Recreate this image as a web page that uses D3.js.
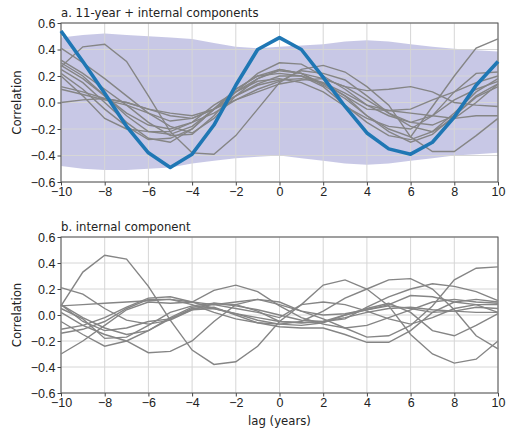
<!DOCTYPE html>
<html lang="en">
<head>
  <meta charset="UTF-8" />
  <title>Lagged correlation</title>
  <script src="https://d3js.org/d3.v7.min.js"></script>
  <style>
    body { margin: 0; background: #fff; }
    svg { font-family: "DejaVu Sans", sans-serif; }
    .tick text { font-size: 12.5px; fill: #222; }
  </style>
</head>
<body>
  <svg id="chart" width="507" height="435"></svg>

  <script>
    const lags = d3.range(-10, 11);
    const xTicks = [-10, -8, -6, -4, -2, 0, 2, 4, 6, 8, 10];
    const yTicks = [-0.6, -0.4, -0.2, 0.0, 0.2, 0.4, 0.6];

    // panel a: spread band
    const bandUpper = [0.49,0.51,0.52,0.51,0.50,0.49,0.48,0.45,0.42,0.41,0.42,0.43,0.44,0.46,0.47,0.46,0.44,0.42,0.405,0.395,0.385];
    const bandLower = [-0.48,-0.50,-0.51,-0.51,-0.50,-0.49,-0.46,-0.44,-0.42,-0.41,-0.40,-0.42,-0.44,-0.46,-0.47,-0.46,-0.44,-0.42,-0.40,-0.39,-0.38];

    // panel a: observed (blue)
    const observed = [0.54,0.31,0.07,-0.18,-0.38,-0.49,-0.39,-0.17,0.13,0.40,0.49,0.40,0.19,-0.03,-0.23,-0.35,-0.39,-0.30,-0.11,0.13,0.31];

    // panel a: members (gray)
    const membersA = [
      [0.27,0.42,0.44,0.31,0.05,-0.22,-0.38,-0.39,-0.25,-0.05,0.15,0.25,0.28,0.23,0.12,-0.02,-0.26,-0.37,-0.37,-0.25,-0.12],
      [0.41,0.30,0.18,0.05,-0.08,-0.18,-0.23,-0.12,0.05,0.18,0.25,0.22,0.13,0.03,-0.10,-0.20,-0.26,-0.03,0.20,0.41,0.48],
      [0.32,0.22,0.10,-0.02,-0.15,-0.25,-0.24,-0.10,0.08,0.22,0.30,0.29,0.20,0.10,-0.02,-0.10,-0.15,-0.10,0.08,0.22,0.23],
      [0.22,0.10,-0.05,-0.18,-0.28,-0.27,-0.20,-0.05,0.10,0.20,0.25,0.22,0.18,0.12,0.09,0.10,0.12,0.08,0.00,-0.02,-0.03],
      [0.30,0.20,0.05,-0.10,-0.22,-0.24,-0.18,-0.05,0.10,0.20,0.22,0.20,0.12,-0.02,-0.15,-0.25,-0.28,-0.22,-0.08,0.08,0.18],
      [0.25,0.15,0.00,-0.15,-0.27,-0.30,-0.20,-0.05,0.08,0.16,0.18,0.15,0.08,-0.03,-0.12,-0.18,-0.20,-0.10,0.02,0.10,0.16],
      [0.12,0.08,0.03,0.00,-0.05,-0.10,-0.12,-0.05,0.05,0.13,0.17,0.18,0.15,0.05,-0.10,-0.22,-0.30,-0.24,-0.10,0.05,0.14],
      [0.10,0.06,0.02,-0.02,-0.08,-0.14,-0.12,-0.05,0.05,0.14,0.20,0.20,0.15,0.07,-0.02,-0.06,-0.08,-0.10,-0.12,-0.10,-0.10],
      [0.00,0.02,0.03,0.00,-0.05,-0.08,-0.10,-0.05,0.02,0.08,0.14,0.17,0.18,0.12,0.02,-0.08,-0.15,-0.17,-0.10,0.04,0.12],
      [0.20,0.05,-0.12,-0.20,-0.22,-0.22,-0.15,-0.02,0.08,0.18,0.24,0.22,0.14,0.05,-0.05,-0.06,-0.05,0.02,0.08,0.15,0.20],
      [0.28,0.18,0.05,-0.08,-0.17,-0.20,-0.15,-0.08,0.02,0.10,0.16,0.24,0.22,0.17,0.05,-0.08,-0.18,-0.22,-0.12,0.00,0.14]
    ];

    // panel b: internal component members (gray)
    const membersB = [
      [0.07,0.33,0.46,0.43,0.22,-0.04,-0.27,-0.38,-0.36,-0.24,-0.05,0.08,0.10,0.08,0.03,-0.03,-0.07,-0.02,0.05,0.08,0.08],
      [0.07,0.08,0.09,0.10,0.11,0.12,0.10,0.08,0.10,0.12,0.08,0.03,0.00,0.01,0.04,0.07,0.05,0.02,0.03,0.06,0.05],
      [0.21,0.16,0.05,-0.04,-0.07,-0.04,0.04,0.09,0.08,0.03,-0.05,-0.06,-0.05,-0.03,0.06,0.14,0.20,0.24,0.22,0.18,0.11],
      [0.02,-0.08,-0.15,-0.20,-0.29,-0.28,-0.20,-0.05,0.08,0.12,0.10,0.03,-0.03,-0.10,-0.17,-0.16,-0.08,0.07,0.27,0.36,0.37],
      [-0.30,-0.20,-0.08,0.04,0.10,0.09,0.10,0.19,0.23,0.18,0.07,-0.02,-0.07,-0.10,-0.08,-0.02,0.04,0.10,0.12,0.10,0.09],
      [0.08,-0.05,-0.12,-0.10,-0.05,-0.03,0.04,0.05,0.01,-0.04,-0.07,-0.05,0.03,0.13,0.20,0.27,0.28,0.20,0.04,-0.16,-0.26],
      [0.08,-0.02,-0.10,-0.15,-0.12,-0.02,0.06,0.08,0.05,0.02,-0.02,0.08,0.23,0.27,0.20,0.07,-0.15,-0.30,-0.37,-0.34,-0.20],
      [-0.05,-0.15,-0.24,-0.20,-0.12,-0.03,0.05,0.06,0.00,-0.06,-0.09,-0.10,-0.10,-0.15,-0.21,-0.21,-0.12,0.02,0.10,0.12,0.10],
      [-0.11,-0.08,-0.02,0.06,0.13,0.14,0.10,0.05,0.01,-0.02,-0.05,-0.06,-0.05,-0.02,0.02,0.05,0.06,0.04,0.03,0.02,0.02],
      [-0.14,-0.11,-0.05,0.05,0.12,0.12,0.08,0.02,-0.03,-0.06,-0.07,-0.08,-0.06,0.00,0.05,0.09,0.02,-0.12,-0.16,-0.08,0.01],
      [0.05,-0.03,-0.18,-0.17,-0.08,0.02,0.07,0.09,0.07,0.04,0.00,-0.04,-0.05,0.00,0.04,0.08,0.15,0.14,0.10,0.08,0.02]
    ];

    const svg = d3.select("#chart");
    const x = d3.scaleLinear().domain([-10, 10]).range([61, 498]);

    function panel(top, bottom, title, showXLabel) {
      const y = d3.scaleLinear().domain([-0.6, 0.6]).range([bottom, top]);
      const g = svg.append("g");

      // grid
      g.append("g").selectAll("line").data(xTicks).join("line")
        .attr("x1", d => x(d)).attr("x2", d => x(d))
        .attr("y1", top).attr("y2", bottom)
        .attr("stroke", "#d6d6d6").attr("stroke-width", 1);
      g.append("g").selectAll("line").data(yTicks).join("line")
        .attr("x1", x(-10)).attr("x2", x(10))
        .attr("y1", d => y(d)).attr("y2", d => y(d))
        .attr("stroke", "#d6d6d6").attr("stroke-width", 1);

      // axes
      g.append("g")
        .attr("transform", `translate(0,${bottom})`)
        .call(d3.axisBottom(x).tickValues(xTicks).tickSize(3.5).tickPadding(2)
          .tickFormat(d => d < 0 ? "\u2212" + Math.abs(d) : d))
        .call(a => a.select(".domain").remove())
        .call(a => a.selectAll(".tick line").attr("stroke", "#444"));
      g.append("g")
        .attr("transform", `translate(${x(-10)},0)`)
        .call(d3.axisLeft(y).tickValues(yTicks).tickSize(3.5).tickPadding(2)
          .tickFormat(d => (d < 0 ? "\u2212" : "") + Math.abs(d).toFixed(1)))
        .call(a => a.select(".domain").remove())
        .call(a => a.selectAll(".tick line").attr("stroke", "#444"));

      // frame
      g.append("rect")
        .attr("x", x(-10)).attr("y", top)
        .attr("width", x(10) - x(-10)).attr("height", bottom - top)
        .attr("fill", "none").attr("stroke", "#555").attr("stroke-width", 1);

      // title
      g.append("text")
        .attr("x", x(-10)).attr("y", top - 6)
        .attr("font-size", "11.7px").attr("fill", "#222")
        .text(title);

      // y label
      g.append("text")
        .attr("transform", `translate(21,${(top + bottom) / 2}) rotate(-90)`)
        .attr("text-anchor", "middle")
        .attr("font-size", "11.7px").attr("fill", "#222")
        .text("Correlation");

      if (showXLabel) {
        g.append("text")
          .attr("x", (x(-10) + x(10)) / 2).attr("y", bottom + 32)
          .attr("text-anchor", "middle")
          .attr("font-size", "11.7px").attr("fill", "#222")
          .text("lag (years)");
      }
      return { g, y };
    }

    // panel a
    const pa = panel(23, 182, "a. 11-year + internal components", false);
    const area = d3.area()
      .x((d, i) => x(lags[i]))
      .y0((d, i) => pa.y(bandLower[i]))
      .y1((d, i) => pa.y(bandUpper[i]));
    pa.g.insert("path", ":first-child")
      .datum(bandUpper)
      .attr("d", area)
      .attr("fill", "rgb(72,72,172)").attr("fill-opacity", 0.3);

    const lineA = d3.line().x((d, i) => x(lags[i])).y(d => pa.y(d));
    pa.g.append("g").selectAll("path").data(membersA).join("path")
      .attr("d", lineA)
      .attr("fill", "none").attr("stroke", "#858585").attr("stroke-width", 1.4);
    pa.g.append("path")
      .datum(observed)
      .attr("d", lineA)
      .attr("fill", "none").attr("stroke", "#1f77b4").attr("stroke-width", 3.6)
      .attr("stroke-linejoin", "round");

    // panel b
    const pb = panel(237, 393, "b. internal component", true);
    const lineB = d3.line().x((d, i) => x(lags[i])).y(d => pb.y(d));
    pb.g.append("g").selectAll("path").data(membersB).join("path")
      .attr("d", lineB)
      .attr("fill", "none").attr("stroke", "#858585").attr("stroke-width", 1.4);
  </script>
</body>
</html>
